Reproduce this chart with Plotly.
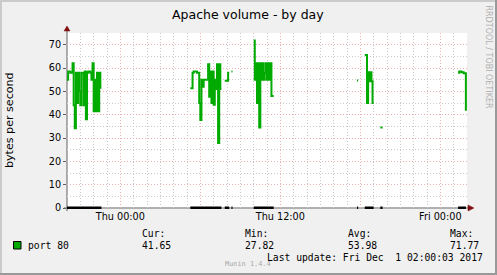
import plotly.graph_objects as go

# ---------------- data (hours since Wed 20:00, 5-minute steps) ----------------
STEP = 5 / 60
seg1_start = 0.0
seg1_vals = [55, 58.5, 58.5, 58, 58, 62, 44, 34.2, 58, 45, 58, 50, 44, 58, 58, 44,
             58.5, 38, 58, 58.5, 58.5, 58, 55, 62, 41.5, 55, 41.5, 58, 41.5, 58, 51.5, 51.5]
seg2_start = 9.25
seg2_vals = [51.3, 51.3, 58, 58.5, 58.5, 58.5, 58, 58, 45, 37.7, 55, 52, 55, 55, 55, 55,
             61.6, 47.7, 58.5, 45, 58.5, 44.2, 55, 51, 61.6, 27.82, 61.6, 51, 51]
seg3_start = 11.833
seg3_vals = [54.5, 54.5, 54.5, 58, 58]
seg4_start = 12.333
seg4_vals = [58.5, 58.5]
seg5_start = 14.0
seg5_vals = [71.77, 55, 62, 45, 62, 34.5, 62, 55, 62, 55, 58, 62, 55, 62, 55, 62, 48, 48, 48]
seg6_start = 21.75
seg6_vals = [54.6, 54.6]
seg7_start = 22.333
seg7_vals = [65.6, 65.6, 45, 58.2, 54.3, 58.2, 54.3, 45, 45]
seg8_start = 23.5
seg8_vals = [34.5, 34.5, 34.5]
seg9_start = 29.333
seg9_vals = [58, 58.5, 58.5, 58.2, 58.2, 57.8, 57.8, 41.65]

segments = [(seg1_start, seg1_vals), (seg2_start, seg2_vals), (seg3_start, seg3_vals),
            (seg4_start, seg4_vals), (seg5_start, seg5_vals), (seg6_start, seg6_vals),
            (seg7_start, seg7_vals), (seg8_start, seg8_vals), (seg9_start, seg9_vals)]

x_major = [4, 10, 16, 22, 28]
x_major_text = ["Thu 00:00", "", "Thu 12:00", "", "Fri 00:00"]
y_ticks = [0, 10, 20, 30, 40, 50, 60, 70]

series_name = "port 80"
stat_labels = ["Cur:", "Min:", "Avg:", "Max:"]
stat_values = ["41.65", "27.82", "53.98", "71.77"]
last_update = "Last update: Fri Dec \u00a01 02:00:03 2017"

# ---------------- build traces ----------------
xs, ys, zx, zy = [], [], [], []
for start, vals in segments:
    for i, v in enumerate(vals):
        xs.append(start + i * STEP)
        ys.append(v)
        zx.append(start + i * STEP)
        zy.append(0)
    xs.append(None); ys.append(None)
    zx.append(None); zy.append(None)

GREEN = "#00AA00"
fig = go.Figure()
fig.add_trace(go.Scatter(x=zx, y=zy, mode="lines", line=dict(color="black", width=3),
                         line_shape="hv", hoverinfo="skip", showlegend=False))
fig.add_trace(go.Scatter(x=xs, y=ys, mode="lines", line=dict(color=GREEN, width=2),
                         line_shape="hv", name=series_name, showlegend=False))

# ---------------- geometry helpers ----------------
W, H = 497, 275
PL, PR, PT, PB = 67, 467, 33, 208   # PB: pixel row of value 0
YMAX = 75
PXU = (PB - PT) / YMAX               # pixels per unit
YMIN = -1 / PXU                      # one extra pixel row below zero
PBB = PB + 1                         # actual bottom of plot area


def px(x):
    return (x - PL) / (PR - PL)


def py(y):
    return (PBB - y) / (PBB - PT)


shapes = []
# 3D frame
shapes.append(dict(type="rect", xref="paper", yref="paper", x0=px(0), x1=px(W), y0=py(0), y1=py(2),
                   line=dict(width=0), fillcolor="#CBCBCB", layer="below"))
shapes.append(dict(type="rect", xref="paper", yref="paper", x0=px(0), x1=px(2), y0=py(0), y1=py(H),
                   line=dict(width=0), fillcolor="#CBCBCB", layer="below"))
shapes.append(dict(type="rect", xref="paper", yref="paper", x0=px(W - 2), x1=px(W), y0=py(0), y1=py(H),
                   line=dict(width=0), fillcolor="#999999", layer="below"))
shapes.append(dict(type="rect", xref="paper", yref="paper", x0=px(0), x1=px(W), y0=py(H - 2), y1=py(H),
                   line=dict(width=0), fillcolor="#999999", layer="below"))
# axes
AX = "#606060"
shapes.append(dict(type="line", xref="paper", yref="paper", x0=px(67), x1=px(67), y0=py(211), y1=py(30),
                   line=dict(color=AX, width=1), layer="below"))
shapes.append(dict(type="line", xref="paper", yref="paper", x0=px(64), x1=px(469), y0=py(208), y1=py(208),
                   line=dict(color=AX, width=1), layer="below"))
# arrows
ARROW = "#801010"
shapes.append(dict(type="path", xref="paper", yref="paper",
                   path=f"M {px(64)} {py(31)} L {px(70)} {py(31)} L {px(67)} {py(26)} Z",
                   fillcolor=ARROW, line=dict(color=ARROW, width=0.5)))
shapes.append(dict(type="path", xref="paper", yref="paper",
                   path=f"M {px(468)} {py(205)} L {px(468)} {py(211)} L {px(474)} {py(208)} Z",
                   fillcolor=ARROW, line=dict(color=ARROW, width=0.5)))
# legend swatch
shapes.append(dict(type="rect", xref="paper", yref="paper", x0=px(13.5), x1=px(21), y0=py(249), y1=py(241.5),
                   fillcolor=GREEN, line=dict(color="black", width=1)))

MONO = "DejaVu Sans Mono"
annotations = []


def txt(text, x, y, size, xanchor="left", color="black", family=MONO, angle=0):
    annotations.append(dict(text=text, x=px(x), y=py(y), xref="paper", yref="paper",
                            xanchor=xanchor, yanchor="middle", showarrow=False, textangle=angle,
                            font=dict(size=size, color=color, family=family)))


txt("Apache volume - by day", 248, 14, 12.5, xanchor="center", family="DejaVu Sans")
txt("bytes per second", 10, 120, 11.1, xanchor="center", family="DejaVu Sans", angle=-90)
txt("RRDTOOL / TOBI OETIKER", 488.5, 57, 8, xanchor="center", family="DejaVu Sans",
    color="#B0B0B0", angle=90)
txt(series_name, 26, 245.5, 9.7)
stat_x = [140, 243, 345.5, 447.5]
for lab, val, sx in zip(stat_labels, stat_values, stat_x):
    txt(lab, sx, 233.5, 9.7)
    txt(val, sx, 245.5, 9.7)
txt(last_update, 484.5, 257.5, 9.7, xanchor="right")
txt("Munin 1.4.4", 248, 263.5, 6.9, xanchor="center", color="#A8A8A8")

MGRID = "rgb(242,175,175)"
GRID = "#CACACA"
fig.update_layout(
    width=W, height=H,
    margin=dict(l=PL, r=W - PR, t=PT, b=H - PBB, pad=0),
    paper_bgcolor="#F0F0F0", plot_bgcolor="white",
    font=dict(family="DejaVu Sans", size=9.7, color="black"),
    showlegend=False,
    shapes=shapes, annotations=annotations,
    xaxis=dict(range=[0, 30], tickmode="array", tickvals=x_major, ticktext=x_major_text,
               showgrid=True, gridcolor=MGRID, griddash="1px,2px", gridwidth=1,
               zeroline=False, showline=False, ticks="", tickfont=dict(size=9.7),
               minor=dict(tickmode="array", tickvals=[h for h in range(1, 30) if h not in x_major],
                          showgrid=True, gridcolor=GRID, griddash="1px,2px", gridwidth=1, ticks="")),
    yaxis=dict(range=[YMIN, YMAX], tickmode="array", tickvals=y_ticks,
               showgrid=True, gridcolor=MGRID, griddash="1px,2px", gridwidth=1,
               zeroline=False, showline=False, ticks="outside", ticklen=3, tickcolor=AX,
               tickfont=dict(size=9.7),
               minor=dict(tickmode="array", tickvals=[v + 5 for v in y_ticks],
                          showgrid=True, gridcolor=GRID, griddash="1px,2px", gridwidth=1, ticks="")),
)

fig.write_html("out.html")
